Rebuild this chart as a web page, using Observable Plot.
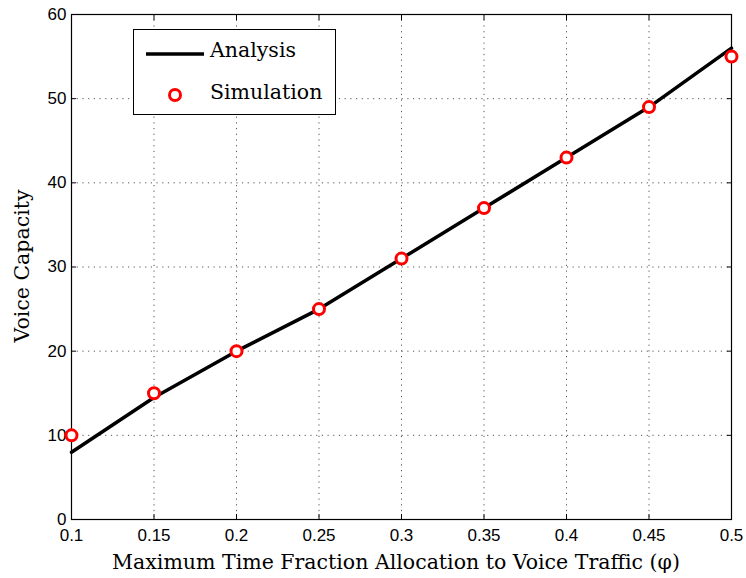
<!DOCTYPE html>
<html>
<head>
<meta charset="utf-8">
<script src="https://cdn.jsdelivr.net/npm/d3@7"></script>
<script src="https://cdn.jsdelivr.net/npm/@observablehq/plot@0.6"></script>
<style>
  html, body { margin: 0; padding: 0; background: #fff; }
  #wrap { position: relative; width: 746px; height: 578px; }
  .serif { font-family: "DejaVu Serif", "Liberation Serif", serif; font-size: 20.5px; line-height: 24px; color: #000; white-space: nowrap; }
  #legend { position: absolute; left: 133px; top: 29px; width: 201px; height: 84px;
    border: 1.3px solid #000; background: #fff; }
  #legend span { position: absolute; left: 76px; }
  #xtitle { position: absolute; left: 0; width: 792px; text-align: center; top: 550px; }
  #ytitle { position: absolute; left: 22px; top: 266px; transform: translate(-50%, -50%) rotate(-90deg); }
</style>
</head>
<body>
<div id="wrap">
  <div id="chart"></div>
  <div id="legend" class="serif">
    <svg width="201" height="84" style="position:absolute;left:0;top:0">
      <line x1="12" x2="70" y1="24" y2="24" stroke="#000" stroke-width="3.5"/>
      <circle cx="41" cy="65" r="5.5" fill="#fff" stroke="#ff0000" stroke-width="3"/>
    </svg>
    <span id="lg1" style="top:8px"></span>
    <span id="lg2" style="top:50px"></span>
  </div>
  <div id="xtitle" class="serif"></div>
  <div id="ytitle" class="serif"></div>
</div>
<script>
const phi = [0.1, 0.15, 0.2, 0.25, 0.3, 0.35, 0.4, 0.45, 0.5];
const analysis = [8, 14.5, 20, 25, 31, 37, 43, 49, 56];
const simulation = [10, 15, 20, 25, 31, 37, 43, 49, 55];
const xTicks = [0.1, 0.15, 0.2, 0.25, 0.3, 0.35, 0.4, 0.45, 0.5];
const yTicks = [0, 10, 20, 30, 40, 50, 60];
const seriesNames = ["Analysis", "Simulation"];
const xLabel = "Maximum Time Fraction Allocation to Voice Traffic (\u03C6)";
const yLabel = "Voice Capacity";

document.getElementById("lg1").textContent = seriesNames[0];
document.getElementById("lg2").textContent = seriesNames[1];
document.getElementById("xtitle").textContent = xLabel;
document.getElementById("ytitle").textContent = yLabel;

const lineData = phi.map((x, i) => ({x, y: analysis[i]}));
const simData = phi.map((x, i) => ({x, y: simulation[i]}));
const gridX = xTicks.slice(1, -1);
const gridY = yTicks.slice(1, -1);

const tickFont = "Liberation Sans, Arial, sans-serif";
const chart = Plot.plot({
  width: 746,
  height: 578,
  marginLeft: 71,
  marginRight: 15,
  marginTop: 14,
  marginBottom: 59,
  style: {fontFamily: tickFont, fontSize: "17px", color: "#000", background: "#fff"},
  x: {domain: [0.1, 0.5], ticks: xTicks},
  y: {domain: [0, 60], ticks: yTicks},
  marks: [
    Plot.ruleX(gridX, {stroke: "#555", strokeDasharray: "1.2,4.5", strokeWidth: 1}),
    Plot.ruleY(gridY, {stroke: "#555", strokeDasharray: "1.2,4.5", strokeWidth: 1}),
    Plot.axisX({ticks: xTicks, tickSize: -5, tickPadding: 14, tickFormat: d => String(d), label: null, fontSize: 17}),
    Plot.axisX({anchor: "top", ticks: xTicks, tickSize: -5, tickFormat: () => "", label: null}),
    Plot.axisY({ticks: yTicks, tickSize: -5, tickPadding: 10, label: null, fontSize: 17}),
    Plot.axisY({anchor: "right", ticks: yTicks, tickSize: -5, tickFormat: () => "", label: null}),
    Plot.frame({stroke: "#000", strokeWidth: 1.2}),
    Plot.line(lineData, {x: "x", y: "y", stroke: "#000", strokeWidth: 3.5}),
    Plot.dot(simData, {x: "x", y: "y", r: 5.5, fill: "#fff", stroke: "#ff0000", strokeWidth: 3})
  ]
});

document.getElementById("chart").appendChild(chart);
</script>
</body>
</html>
